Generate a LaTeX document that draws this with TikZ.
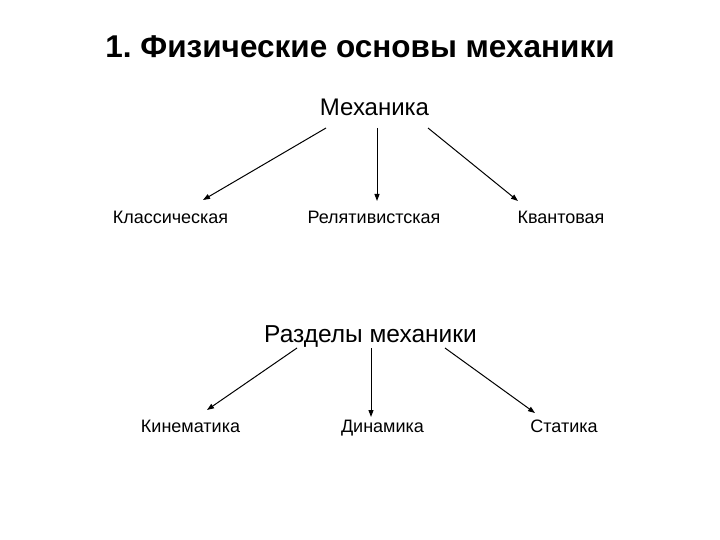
\documentclass[tikz,border=0pt]{standalone}
\usepackage{fontspec}
\setmainfont{Liberation Sans}
\usetikzlibrary{arrows.meta}
\begin{document}
\begin{tikzpicture}[x=1pt,y=-1pt,
  lbl/.style={inner sep=0pt,anchor=base},
  big/.style={lbl,font=\fontsize{24}{28}\selectfont},
  small/.style={lbl,font=\fontsize{18}{21}\selectfont},
  arr/.style={line width=1pt,-{Triangle[length=7pt,width=5pt]}}]
\useasboundingbox (0,0) rectangle (720,540);
\node[lbl,font=\bfseries\fontsize{31.5}{34}\selectfont] (title) at (360,58) {1.\ Физические основы механики};
\node[big] (mech) at (374.5,116) {Механика};
\node[small] (cl) at (170.5,224) {Классическая};
\node[small] (rel) at (374,224) {Релятивистская};
\node[small] (qu) at (561,224) {Квантовая};
\coordinate (m1) at (326,128); \coordinate (m2) at (377,128); \coordinate (m3) at (428,128);
\coordinate (e1) at (203,200); \coordinate (e2) at (377,201); \coordinate (e3) at (518,201);
\draw[arr] (m1) -- (e1);
\draw[arr] (m2) -- (e2);
\draw[arr] (m3) -- (e3);
\node[lbl,font=\fontsize{24.5}{28}\selectfont] (razd) at (370.5,342) {Разделы механики};
\node[small] (kin) at (190.5,432) {Кинематика};
\node[small] (din) at (382.5,432) {Динамика};
\node[small] (stat) at (564,432) {Статика};
\coordinate (r1) at (297,348); \coordinate (r2) at (371,348); \coordinate (r3) at (445,348);
\coordinate (f1) at (207,410); \coordinate (f2) at (371,417); \coordinate (f3) at (535,413);
\draw[arr] (r1) -- (f1);
\draw[arr] (r2) -- (f2);
\draw[arr] (r3) -- (f3);
\end{tikzpicture}
\end{document}
